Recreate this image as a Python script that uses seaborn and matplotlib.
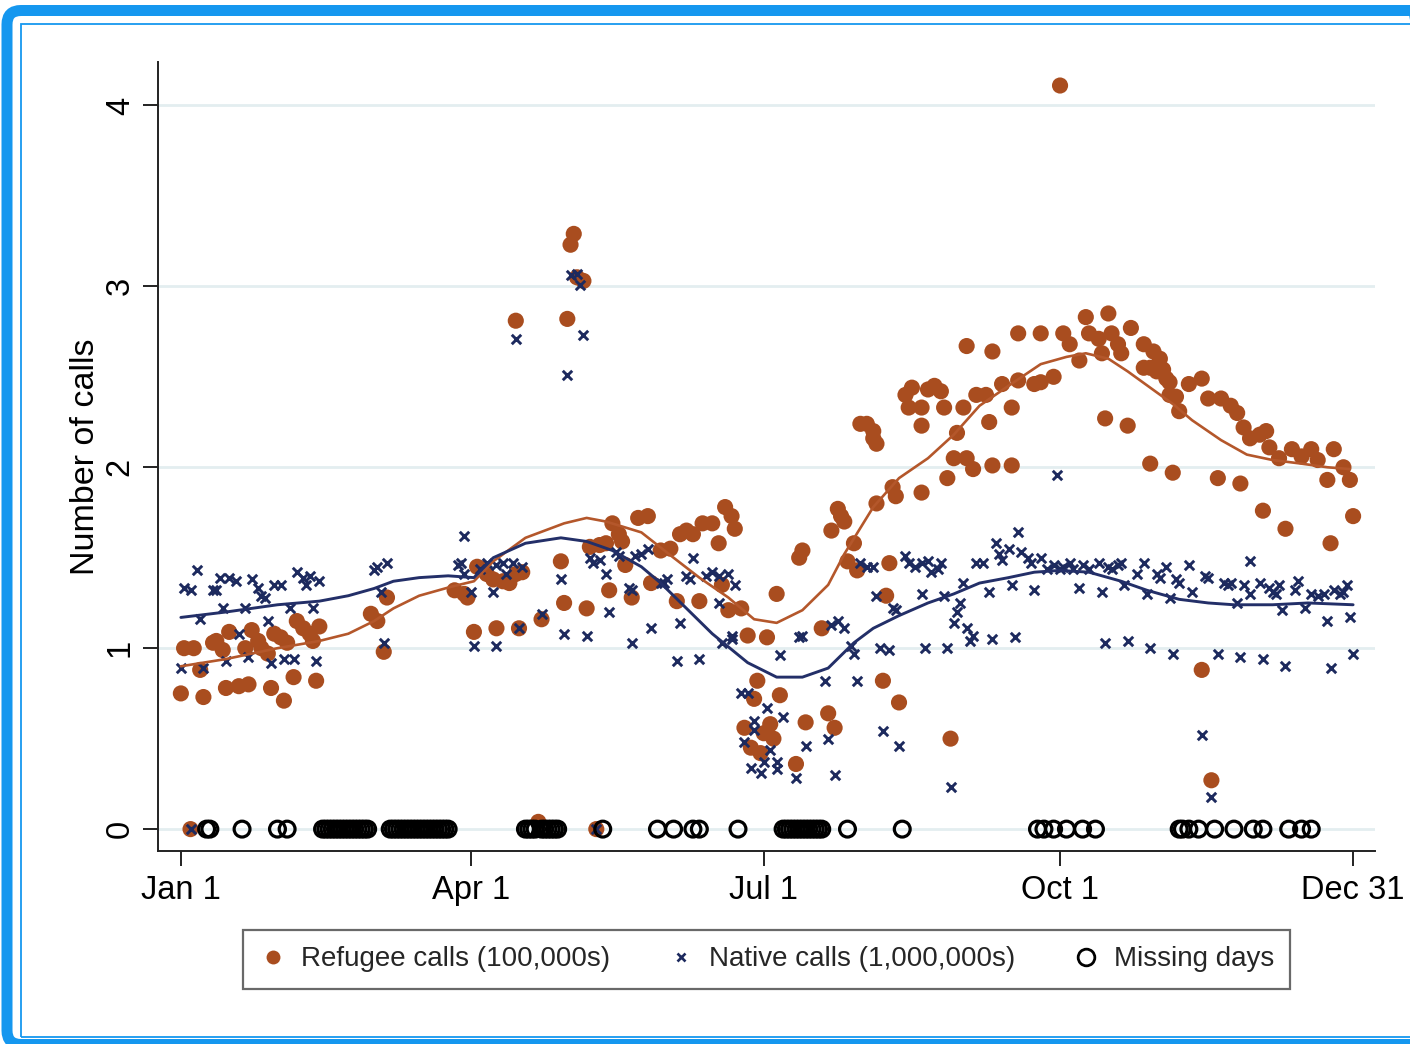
import numpy as np
import pandas as pd
import matplotlib
matplotlib.use("Agg")
import matplotlib.pyplot as plt
import seaborn as sns
from matplotlib.lines import Line2D
from matplotlib.patches import FancyBboxPatch, Rectangle
from matplotlib.transforms import IdentityTransform

# ---------------- data (day of year, value) ----------------
ref_q1_days = [0, 1, 4, 3, 6, 7, 10, 11, 13, 14, 15, 18, 21, 20, 22, 24, 25, 27, 28, 29,
               31, 33, 32, 35, 36, 38, 40, 41, 43, 42, 59, 61, 63, 64, 85, 88, 89, 91, 92]
ref_q1_vals = [0.75, 1.00, 1.00, 0.00, 0.88, 0.73, 1.03, 1.04, 0.99, 0.78, 1.09, 0.79, 0.80, 1.00, 1.10, 1.04, 1.00, 0.97, 0.78, 1.08,
               1.06, 1.03, 0.71, 0.84, 1.15, 1.11, 1.08, 1.04, 1.12, 0.82, 1.19, 1.15, 0.98, 1.28, 1.32, 1.30, 1.28, 1.09, 1.45]
ref_q2_days = [94, 95, 97, 100, 102, 104, 106, 98, 105, 112, 118, 119, 126, 127, 130, 132, 134, 136, 137, 133,
               138, 140, 142, 145, 146, 149, 152, 154, 155, 157, 159, 161, 162, 165, 167, 168, 169, 171, 172, 170,
               174, 176, 182, 185, 121, 122, 125, 123, 104, 120, 111, 129]
ref_q2_vals = [1.44, 1.41, 1.38, 1.37, 1.36, 1.41, 1.42, 1.11, 1.11, 1.16, 1.48, 1.25, 1.22, 1.56, 1.57, 1.58, 1.69, 1.63, 1.59, 1.32,
               1.46, 1.28, 1.72, 1.73, 1.36, 1.54, 1.55, 1.26, 1.63, 1.65, 1.63, 1.26, 1.69, 1.69, 1.58, 1.35, 1.78, 1.73, 1.66, 1.21,
               1.22, 1.07, 1.06, 1.30, 3.23, 3.29, 3.03, 3.05, 2.81, 2.82, 0.04, 0.00]
ref_q3a_days = [179, 178, 186, 175, 177, 180, 183, 181, 184, 191, 194, 201, 203, 199, 192, 193, 202, 204, 205, 206,
                209, 207, 210, 220, 219, 218, 223, 239]
ref_q3a_vals = [0.82, 0.72, 0.74, 0.56, 0.45, 0.42, 0.58, 0.53, 0.50, 0.36, 0.59, 0.64, 0.56, 1.11, 1.50, 1.54, 1.65, 1.77, 1.73, 1.70,
                1.58, 1.48, 1.43, 1.47, 1.29, 0.82, 0.70, 0.50]
ref_q3b_days = [211, 213, 215, 215, 216, 216, 221, 222, 230, 238, 240, 244, 246, 252, 258, 241, 251, 258, 225, 227,
                232, 234, 236, 230, 226, 230, 237, 243, 247, 250, 255, 260, 265, 244, 252, 260]
ref_q3b_vals = [2.24, 2.24, 2.20, 2.16, 2.13, 1.80, 1.89, 1.84, 1.86, 1.94, 2.05, 2.05, 1.99, 2.01, 2.01, 2.19, 2.25, 2.33, 2.40, 2.44,
                2.43, 2.45, 2.42, 2.23, 2.33, 2.33, 2.33, 2.33, 2.40, 2.40, 2.46, 2.48, 2.46, 2.67, 2.64, 2.74]
ref_q4_days = [267, 274, 276, 279, 271, 267, 281, 288, 295, 282, 285, 286, 289, 291, 292, 287, 294, 299, 302, 304,
               299, 301, 303, 305, 306, 307, 307, 309, 310, 301, 308, 313, 317, 319, 323, 326, 328, 322, 329, 330,
               332, 335, 337, 336, 338, 341, 345, 348, 351, 353, 356, 358, 361, 363, 343, 357, 364, 273, 317, 320]
ref_q4_vals = [2.74, 2.74, 2.68, 2.59, 2.50, 2.47, 2.83, 2.85, 2.77, 2.74, 2.71, 2.63, 2.74, 2.68, 2.63, 2.27, 2.23, 2.68, 2.64, 2.60,
               2.55, 2.55, 2.53, 2.54, 2.49, 2.47, 2.40, 2.39, 2.31, 2.02, 1.97, 2.46, 2.49, 2.38, 2.38, 2.34, 2.30, 1.94, 1.91, 2.22,
               2.16, 2.18, 2.20, 1.76, 2.11, 2.05, 2.10, 2.06, 2.10, 2.04, 1.93, 2.10, 2.00, 1.93, 1.66, 1.58, 1.73, 4.11, 0.88, 0.27]

nat_q1_days = [0, 1, 3, 5, 6, 7, 10, 11, 12, 15, 17, 13, 14, 18, 20, 21, 22, 24, 25, 26,
               27, 28, 29, 31, 32, 35, 34, 36, 38, 39, 40, 43, 41, 42, 60, 61, 64, 62, 63, 88,
               86, 88, 90, 91, 3]
nat_q1_vals = [0.89, 1.33, 1.32, 1.43, 1.16, 0.89, 1.32, 1.32, 1.39, 1.39, 1.37, 1.22, 0.93, 1.08, 1.22, 0.95, 1.38, 1.33, 1.29, 1.28,
               1.15, 0.92, 1.35, 1.35, 0.94, 0.94, 1.22, 1.42, 1.39, 1.35, 1.40, 1.37, 1.22, 0.93, 1.43, 1.45, 1.47, 1.31, 1.03, 1.62,
               1.46, 1.41, 1.31, 1.01, 0.00]
nat_q2_days = [121, 123, 124, 104, 125, 120, 87, 93, 95, 98, 100, 101, 103, 106, 97, 105, 112, 118, 119, 126,
               127, 128, 130, 132, 133, 135, 136, 139, 140, 141, 143, 145, 146, 149, 150, 151, 155, 157, 158, 159,
               163, 165, 167, 170, 172, 167, 171, 98, 140, 154, 161, 171, 168, 129]
nat_q2_vals = [3.06, 3.07, 3.01, 2.71, 2.73, 2.51, 1.47, 1.44, 1.47, 1.46, 1.47, 1.41, 1.47, 1.45, 1.31, 1.11, 1.19, 1.38, 1.08, 1.07,
               1.50, 1.47, 1.49, 1.41, 1.20, 1.53, 1.51, 1.33, 1.32, 1.51, 1.52, 1.55, 1.11, 1.36, 1.36, 1.38, 1.14, 1.40, 1.38, 1.50,
               1.40, 1.42, 1.40, 1.41, 1.35, 1.25, 1.07, 1.01, 1.03, 0.93, 0.94, 1.05, 1.03, 0.00]
nat_q3a_days = [174, 176, 182, 178, 178, 175, 183, 177, 180, 181, 185, 185, 187, 191, 194, 201, 203, 186, 192, 193,
                200, 202, 204, 206, 208, 209, 210]
nat_q3a_vals = [0.75, 0.75, 0.67, 0.60, 0.55, 0.48, 0.44, 0.34, 0.31, 0.37, 0.37, 0.33, 0.62, 0.28, 0.46, 0.50, 0.30, 0.96, 1.06, 1.07,
                0.82, 1.13, 1.15, 1.11, 1.01, 0.97, 0.82]
nat_q3b_days = [211, 213, 215, 216, 217, 220, 218, 223, 221, 222, 225, 226, 228, 230, 232, 233, 235, 236, 230, 231,
                238, 237, 240, 241, 242, 243, 244, 246, 245, 239, 247, 249, 251, 252, 253, 254, 257, 255, 258, 259,
                260, 261, 263, 264, 267, 269, 271, 265, 272]
nat_q3b_vals = [1.47, 1.45, 1.45, 1.29, 1.00, 0.99, 0.54, 0.46, 1.22, 1.21, 1.51, 1.47, 1.45, 1.47, 1.48, 1.42, 1.44, 1.47, 1.30, 1.00,
                1.00, 1.29, 1.14, 1.20, 1.25, 1.36, 1.11, 1.07, 1.04, 0.23, 1.47, 1.47, 1.31, 1.05, 1.58, 1.52, 1.55, 1.49, 1.35, 1.06,
                1.64, 1.53, 1.50, 1.47, 1.50, 1.44, 1.46, 1.32, 1.96]
nat_q4_days = [274, 276, 277, 280, 282, 285, 288, 289, 291, 292, 279, 286, 293, 297, 299, 300, 303, 304, 306, 309,
               310, 307, 313, 314, 318, 319, 324, 325, 326, 328, 330, 332, 335, 338, 339, 340, 341, 342, 346, 347,
               349, 351, 353, 355, 356, 358, 360, 361, 362, 363, 287, 294, 301, 308, 322, 329, 336, 343, 357, 364,
               317, 320, 332, 273]
nat_q4_vals = [1.45, 1.47, 1.44, 1.46, 1.44, 1.47, 1.45, 1.44, 1.46, 1.47, 1.33, 1.31, 1.35, 1.41, 1.47, 1.30, 1.41, 1.39, 1.45, 1.38,
               1.36, 1.28, 1.46, 1.31, 1.40, 1.39, 1.36, 1.35, 1.36, 1.25, 1.35, 1.30, 1.36, 1.33, 1.31, 1.30, 1.35, 1.21, 1.32, 1.37,
               1.22, 1.30, 1.29, 1.30, 1.15, 1.32, 1.30, 1.31, 1.35, 1.17, 1.03, 1.04, 1.00, 0.97, 0.97, 0.95, 0.94, 0.90, 0.89, 0.97,
               0.52, 0.18, 1.48, 1.44]

missing_days = [8, 9, 19, 30, 33,
                44, 45, 46, 47, 48, 49, 50, 51, 52, 53, 54, 55, 56, 57, 58,
                65, 66, 67, 68, 69, 70, 71, 72, 73, 74, 75, 76, 77, 78, 79, 80, 81, 82, 83,
                107, 108, 109, 110, 112, 113, 114, 115, 116, 117,
                131, 148, 153, 159, 161, 173,
                187, 188, 189, 190, 191, 192, 193, 194, 195, 196, 197, 198, 199,
                207, 224, 266, 268, 271, 275, 280, 284,
                310, 311, 313, 316, 321, 327, 333, 336, 344, 348, 351]

ref_trend_days = [0, 14, 30, 43, 52, 60, 66, 74, 84, 91, 97, 107, 119, 126, 132, 143, 153, 161, 170, 178,
                  185, 193, 201, 206, 215, 223, 232, 240, 248, 257, 267, 275, 281, 288, 294, 301, 308, 314,
                  323, 331, 339, 348, 356, 363]
ref_trend_vals = [0.90, 0.94, 1.00, 1.04, 1.08, 1.15, 1.22, 1.29, 1.34, 1.37, 1.48, 1.61, 1.69, 1.72, 1.70, 1.64, 1.50, 1.39, 1.28, 1.16,
                  1.14, 1.21, 1.35, 1.52, 1.78, 1.94, 2.05, 2.18, 2.34, 2.45, 2.57, 2.61, 2.63, 2.60, 2.53, 2.44, 2.35, 2.26,
                  2.15, 2.07, 2.04, 2.02, 2.00, 1.99]
nat_trend_days = [0, 14, 30, 43, 52, 60, 66, 74, 83, 91, 97, 107, 118, 126, 134, 143, 149, 157, 165, 176,
                  185, 193, 201, 209, 215, 223, 232, 240, 248, 257, 265, 273, 282, 292, 300, 310, 319, 327,
                  339, 350, 364]
nat_trend_vals = [1.17, 1.20, 1.24, 1.26, 1.29, 1.33, 1.37, 1.39, 1.40, 1.39, 1.50, 1.58, 1.61, 1.59, 1.54, 1.45, 1.36, 1.22, 1.08, 0.92,
                  0.84, 0.84, 0.89, 1.03, 1.11, 1.18, 1.25, 1.30, 1.36, 1.39, 1.42, 1.43, 1.42, 1.37, 1.32, 1.27, 1.25, 1.24,
                  1.24, 1.25, 1.24]

x_tick_days = [0, 90, 181, 273, 364]
x_tick_labels = ["Jan 1", "Apr 1", "Jul 1", "Oct 1", "Dec 31"]
y_ticks = [0, 1, 2, 3, 4]
legend_labels = ["Refugee calls (100,000s)", "Native calls (1,000,000s)", "Missing days"]

ref_days = ref_q1_days + ref_q2_days + ref_q3a_days + ref_q3b_days + ref_q4_days
ref_vals = ref_q1_vals + ref_q2_vals + ref_q3a_vals + ref_q3b_vals + ref_q4_vals
nat_days = nat_q1_days + nat_q2_days + nat_q3a_days + nat_q3b_days + nat_q4_days
nat_vals = nat_q1_vals + nat_q2_vals + nat_q3a_vals + nat_q3b_vals + nat_q4_vals

ref_df = pd.DataFrame({"day": ref_days, "calls": ref_vals})
nat_df = pd.DataFrame({"day": nat_days, "calls": nat_vals})
miss_df = pd.DataFrame({"day": missing_days, "calls": [0.0] * len(missing_days)})
ref_tr = pd.DataFrame({"day": ref_trend_days, "calls": ref_trend_vals})
nat_tr = pd.DataFrame({"day": nat_trend_days, "calls": nat_trend_vals})

# ---------------- style ----------------
ORANGE = "#A94D1F"
ORANGE_LINE = "#B4572B"
NAVY = "#1D2A5E"
NAVY_LINE = "#232F68"
GRID = "#E3EEF0"
BLUE = "#1597EF"

sns.set_theme(style="white")
plt.rcParams["font.family"] = ["Liberation Sans", "DejaVu Sans"]

W, H = 1410, 1044
fig = plt.figure(figsize=(W / 100, H / 100), dpi=100)
fig.patch.set_facecolor("white")

L, R, T, B = 158, 1375, 62, 851
ax = fig.add_axes([L / W, 1 - B / H, (R - L) / W, (B - T) / H])
ax.set_facecolor("white")

ax.set_xlim(-7.1, 370.8)
ax.set_ylim(-0.121, 4.24)

ax.set_yticks(y_ticks)
ax.grid(axis="y", color=GRID, linewidth=2.0)
ax.grid(axis="x", visible=False)
ax.set_axisbelow(True)

sns.scatterplot(data=ref_df, x="day", y="calls", color=ORANGE, s=135, edgecolor="none",
                ax=ax, zorder=3, legend=False)
sns.scatterplot(data=nat_df, x="day", y="calls", color=NAVY, marker="x", s=46, linewidth=2.1,
                ax=ax, zorder=4, legend=False)
sns.lineplot(data=ref_tr, x="day", y="calls", color=ORANGE_LINE, linewidth=1.9, ax=ax,
             zorder=5, estimator=None, sort=False, legend=False)
sns.lineplot(data=nat_tr, x="day", y="calls", color=NAVY_LINE, linewidth=2.1, ax=ax,
             zorder=5, estimator=None, sort=False, legend=False)
sns.scatterplot(data=miss_df, x="day", y="calls", marker="o", facecolor="none", edgecolor="black",
                s=130, linewidth=2.3, ax=ax, zorder=6, legend=False)

for side in ["top", "right"]:
    ax.spines[side].set_visible(False)
for side in ["left", "bottom"]:
    ax.spines[side].set_color("#222222")
    ax.spines[side].set_linewidth(1.4)

ax.set_xticks(x_tick_days)
ax.set_xticklabels(x_tick_labels, fontsize=23.5)
ax.set_yticklabels([str(v) for v in y_ticks], fontsize=23.5, rotation=90, va="center")
ax.tick_params(axis="both", which="major", direction="out", length=11, width=1.4,
               color="#222222", labelcolor="black", left=True, bottom=True)
ax.tick_params(axis="x", pad=6)
ax.tick_params(axis="y", pad=5)
ax.set_xlabel("")
ax.set_ylabel("Number of calls", fontsize=24.5, color="black", labelpad=3)

handles = [
    Line2D([], [], ls="none", marker="o", markersize=10, markerfacecolor=ORANGE, markeredgecolor="none"),
    Line2D([], [], ls="none", marker="x", markersize=6, markeredgewidth=1.9, color=NAVY),
    Line2D([], [], ls="none", marker="o", markersize=12, markerfacecolor="none",
           markeredgecolor="black", markeredgewidth=2.0),
]
leg = ax.legend(handles, legend_labels, ncol=3, loc="center", bbox_to_anchor=(0.5, -0.1375),
                frameon=True, fancybox=False, fontsize=20, handlelength=1.0, handletextpad=0.5,
                columnspacing=2.05, borderpad=0.6)
leg.get_frame().set_edgecolor("#444444")
leg.get_frame().set_linewidth(1.6)

# ---------------- decorative frame ----------------
outer = FancyBboxPatch((7, -0.5), 1420, 1034, boxstyle="round,pad=0,rounding_size=14",
                       fill=False, edgecolor=BLUE, linewidth=11 * 0.72, transform=IdentityTransform())
fig.add_artist(outer)
inner = Rectangle((21, 7.5), 1420, 1012.5, fill=False, edgecolor=BLUE, linewidth=1.8 * 0.72,
                  transform=IdentityTransform())
fig.add_artist(inner)

fig.savefig("out.png", dpi=100, facecolor="white")
